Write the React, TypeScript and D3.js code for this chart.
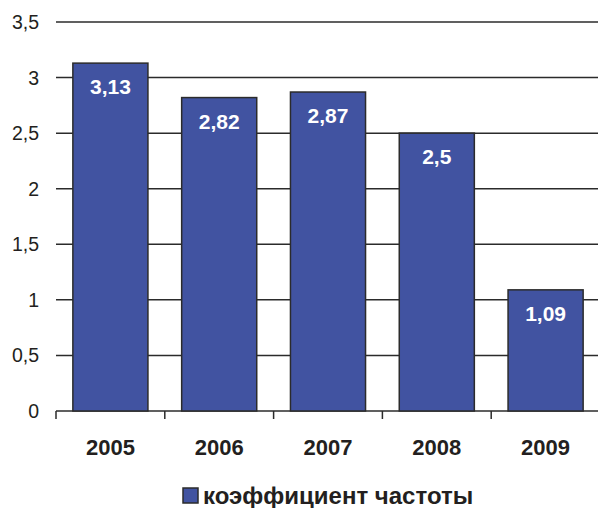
import React, { useEffect, useRef } from 'react';
import * as d3 from 'd3';

const years = ['2005', '2006', '2007', '2008', '2009'];
const values = [3.13, 2.82, 2.87, 2.5, 1.09];
const yTicks = [0, 0.5, 1, 1.5, 2, 2.5, 3, 3.5];
const seriesName = 'коэффициент частоты';

const fmt = (v: number) => String(v).replace('.', ',');

export default function App() {
	const ref = useRef<SVGSVGElement>(null);

	useEffect(() => {
		const svg = d3.select(ref.current);
		svg.selectAll('*').remove();

		const left = 56, right = 600, top = 22, bottom = 411;
		const font = "'Liberation Sans', Arial, sans-serif";

		const x = d3.scaleBand().domain(years).range([left, right]).paddingInner(0.31).paddingOuter(0.155);
		const y = d3.scaleLinear().domain([0, 3.5]).range([bottom, top]);

		// grid lines
		svg.append('g')
			.selectAll('line')
			.data(yTicks)
			.enter()
			.append('line')
			.attr('x1', left)
			.attr('x2', 598)
			.attr('y1', (d) => y(d))
			.attr('y2', (d) => y(d))
			.attr('stroke', '#2b2b2b')
			.attr('stroke-width', 1.5);

		// y labels
		svg.append('g')
			.selectAll('text')
			.data(yTicks)
			.enter()
			.append('text')
			.attr('x', 39)
			.attr('y', (d) => y(d))
			.attr('dy', '0.36em')
			.attr('text-anchor', 'end')
			.style('font', `19.5px ${font}`)
			.attr('fill', '#231f20')
			.text((d) => fmt(d));

		// x ticks at category boundaries
		const step = x.step();
		svg.append('g')
			.selectAll('line')
			.data(years)
			.enter()
			.append('line')
			.attr('x1', (d, i) => left + i * step)
			.attr('x2', (d, i) => left + i * step)
			.attr('y1', bottom)
			.attr('y2', bottom + 8)
			.attr('stroke', '#2b2b2b')
			.attr('stroke-width', 1.5);

		// bars
		svg.append('g')
			.selectAll('rect')
			.data(values)
			.enter()
			.append('rect')
			.attr('x', (d, i) => x(years[i])!)
			.attr('y', (d) => y(d))
			.attr('width', x.bandwidth())
			.attr('height', (d) => bottom - y(d))
			.attr('fill', '#4153a1')
			.attr('stroke', '#2b2b2b')
			.attr('stroke-width', 1.5);

		// value labels
		svg.append('g')
			.selectAll('text')
			.data(values)
			.enter()
			.append('text')
			.attr('x', (d, i) => x(years[i])! + x.bandwidth() / 2)
			.attr('y', (d) => y(d) + 31)
			.attr('text-anchor', 'middle')
			.style('font', `bold 21px ${font}`)
			.attr('fill', '#ffffff')
			.text((d) => fmt(d));

		// year labels
		svg.append('g')
			.selectAll('text')
			.data(years)
			.enter()
			.append('text')
			.attr('x', (d) => x(d)! + x.bandwidth() / 2)
			.attr('y', 455)
			.attr('text-anchor', 'middle')
			.style('font', `bold 22px ${font}`)
			.attr('fill', '#231f20')
			.text((d) => d);

		// legend
		const lg = svg.append('g');
		lg.append('rect')
			.attr('x', 183)
			.attr('y', 488)
			.attr('width', 15)
			.attr('height', 15)
			.attr('fill', '#4153a1')
			.attr('stroke', '#2b2b2b')
			.attr('stroke-width', 1.5);
		lg.append('text')
			.attr('x', 203)
			.attr('y', 504)
			.style('font', `bold 24px ${font}`)
			.attr('fill', '#231f20')
			.text(seriesName);
	}, []);

	return (
		<svg
			ref={ref}
			width={598}
			height={508}
			style={{ position: 'absolute', left: 0, top: 0, background: '#ffffff' }}
		/>
	);
}
